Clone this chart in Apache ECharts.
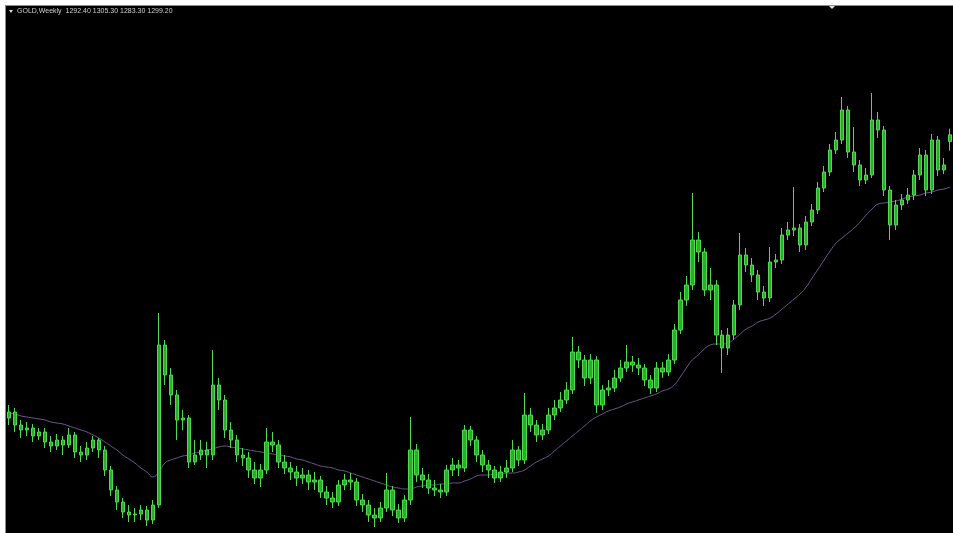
<!DOCTYPE html>
<html>
<head>
<meta charset="utf-8">
<script src="https://cdn.jsdelivr.net/npm/echarts@6/dist/echarts.min.js"></script>
<style>
html,body{margin:0;padding:0;background:#ffffff;width:953px;height:533px;overflow:hidden;}
#frame{position:absolute;left:5px;top:5px;width:948px;height:528px;box-sizing:border-box;border-left:1px solid #8a8a8a;border-top:1px solid #8a8a8a;background:#000;}
#chart{position:absolute;left:0;top:0;width:947px;height:527px;}
</style>
</head>
<body>
<div id="frame"><div id="chart"></div></div>
<script>
const symbolName = 'GOLD';
const timeframe = 'Weekly';
const headerValues = ['1292.40', '1305.30', '1283.30', '1299.20'];

const opens = [
1016,1022,1009,1004,1006,998,1002,992,988,994,
989,999,982,979,986,994,984,964,944,932,
922,919,920,924,914,929,1089,1059,1039,1014,
1016,972,979,984,979,1049,1034,1004,994,979,
976,964,956,964,992,989,972,966,962,956,
959,952,954,942,936,932,949,954,952,934,
929,919,916,926,944,924,916,934,984,959,
954,946,944,942,964,969,966,1004,994,979,
969,964,956,962,966,984,974,1019,1009,999,
1004,1019,1026,1034,1044,1082,1074,1056,1074,1029,
1044,1046,1056,1066,1072,1069,1066,1054,1046,1066,
1062,1074,1104,1134,1149,1194,1182,1144,1149,1099,
1086,1099,1129,1179,1169,1159,1142,1136,1172,1174,
1199,1204,1206,1189,1212,1224,1246,1262,1284,1294,
1324,1282,1269,1254,1259,1314,1304,1244,1209,1229,
1234,1239,1259,1279,1244,1294,1264,1292.4
];
const closes = [
1022,1009,1004,1006,998,1002,992,988,994,989,
999,982,979,986,994,984,964,944,932,922,
919,920,924,914,929,1089,1059,1039,1014,1016,
972,979,984,979,1049,1034,1004,994,979,976,
964,956,964,992,989,972,966,962,956,959,
952,954,942,936,932,949,954,952,934,929,
919,916,926,944,924,916,934,984,959,954,
946,944,942,964,969,966,1004,994,979,969,
964,956,962,966,984,974,1019,1009,999,1004,
1019,1026,1034,1044,1082,1074,1056,1074,1029,1044,
1046,1056,1066,1072,1069,1066,1054,1046,1066,1062,
1074,1104,1134,1149,1194,1182,1144,1149,1099,1086,
1099,1129,1179,1169,1159,1142,1136,1172,1174,1199,
1204,1206,1189,1212,1224,1246,1262,1284,1294,1324,
1282,1269,1254,1259,1314,1304,1244,1209,1229,1234,
1239,1259,1279,1244,1294,1264,1269,1299.2
];
const lows = [
1009,1002,996,998,992,994,986,982,984,979,
986,976,972,974,982,976,958,938,924,916,
912,912,914,908,910,926,1049,1029,994,1004,
966,969,974,966,974,1024,996,986,972,968,
956,950,947,960,982,966,960,954,948,950,
944,944,936,929,926,928,944,944,928,922,
912,907,912,922,918,911,912,929,952,946,
940,938,936,938,958,958,962,988,972,962,
956,951,952,956,962,968,970,1002,992,994,
1000,1014,1022,1030,1040,1066,1048,1050,1021,1024,
1038,1042,1052,1062,1062,1059,1048,1040,1042,1056,
1058,1070,1100,1128,1144,1172,1138,1134,1089,1061,
1079,1094,1124,1162,1152,1134,1128,1132,1166,1170,
1194,1198,1182,1184,1208,1220,1242,1258,1280,1290,
1276,1262,1248,1250,1256,1296,1238,1194,1204,1224,
1230,1234,1254,1238,1240,1258,1260,1283.3
];
const highs = [
1029,1026,1014,1012,1010,1006,1006,998,1000,998,
1006,1002,988,992,998,996,988,968,948,936,
929,926,929,928,934,1121,1094,1066,1044,1024,
1019,994,994,992,1084,1056,1039,1012,999,986,
982,972,970,1006,1002,994,979,972,968,966,
964,962,958,948,942,954,960,961,956,940,
934,926,932,961,948,930,939,1017,990,966,
960,954,950,969,976,974,1009,1008,998,984,
974,968,968,974,994,988,1041,1026,1014,1010,
1026,1034,1042,1052,1097,1088,1079,1080,1078,1049,
1054,1064,1074,1089,1078,1076,1070,1059,1072,1072,
1080,1110,1142,1158,1241,1202,1186,1166,1154,1104,
1106,1134,1201,1186,1176,1164,1148,1187,1180,1206,
1212,1247,1210,1218,1230,1252,1268,1290,1302,1337,
1328,1307,1274,1266,1341,1322,1308,1248,1234,1240,
1246,1264,1286,1284,1300,1298,1276,1305.3
];
const movingAverage = [
1021,1020,1018,1017,1016,1015,1014,1012,1011,1010,
1008,1006,1004,1002,999,996,992,988,984,979,
975,971,966,962,957,962,971,974,976,978,
979,981,982,984,985,987,988,987,986,985,
984,983,982,981,980,979,978,977,975,974,
972,970,968,967,966,964,963,961,959,957,
955,953,951,949,947,946,945,945,947,948,
949,949,950,950,951,951,953,955,958,959,
959,960,960,961,961,962,964,968,972,975,
978,983,988,993,998,1003,1008,1013,1017,1020,
1023,1025,1027,1030,1032,1034,1036,1038,1040,1043,
1045,1049,1057,1066,1074,1079,1085,1089,1090,1090,
1091,1095,1100,1105,1108,1112,1114,1116,1120,1125,
1130,1135,1140,1147,1156,1165,1174,1183,1191,1196,
1201,1206,1212,1219,1225,1230,1231,1232,1233,1235,
1237,1238,1239,1241,1242,1244,1245,1247
];
const categories = closes.map((_, i) => 'W' + (i + 1));

const candleData = opens.map((o, i) => [o, closes[i], lows[i], highs[i]]);

const chart = echarts.init(document.getElementById('chart'), null, {renderer: 'canvas'});
chart.setOption({
  animation: false,
  backgroundColor: '#000000',
  grid: {left: 0, right: 0, top: 0, bottom: 0},
  xAxis: {
    type: 'category', data: categories, boundaryGap: true,
    axisLine: {show: false}, axisTick: {show: false}, axisLabel: {show: false}, splitLine: {show: false}
  },
  yAxis: {
    type: 'value', min: 901, max: 1428, scale: true,
    axisLine: {show: false}, axisTick: {show: false}, axisLabel: {show: false}, splitLine: {show: false}
  },
  graphic: [
    {type: 'polygon', shape: {points: [[3, 4], [7, 4], [5, 7]]}, style: {fill: '#d8d8d8'}},
    {type: 'text', left: 11, top: 2, style: {
      text: symbolName + ',' + timeframe + '  ' + headerValues.join(' '),
      fill: '#d0d0d0', font: '7px "Liberation Sans", Arial, sans-serif'
    }},
    {type: 'polygon', shape: {points: [[823, 0], [829, 0], [826, 3]]}, style: {fill: '#e0e0e0'}}
  ],
  series: [
    {
      type: 'candlestick', data: candleData, barWidth: 4,
      itemStyle: {color: '#2aae2a', color0: '#2aae2a', borderColor: '#52d852', borderColor0: '#52d852', borderWidth: 1}
    },
    {
      type: 'line', data: movingAverage, showSymbol: false, smooth: true,
      lineStyle: {color: '#6f5a92', width: 1}, z: 1
    }
  ]
});
</script>
</body>
</html>
